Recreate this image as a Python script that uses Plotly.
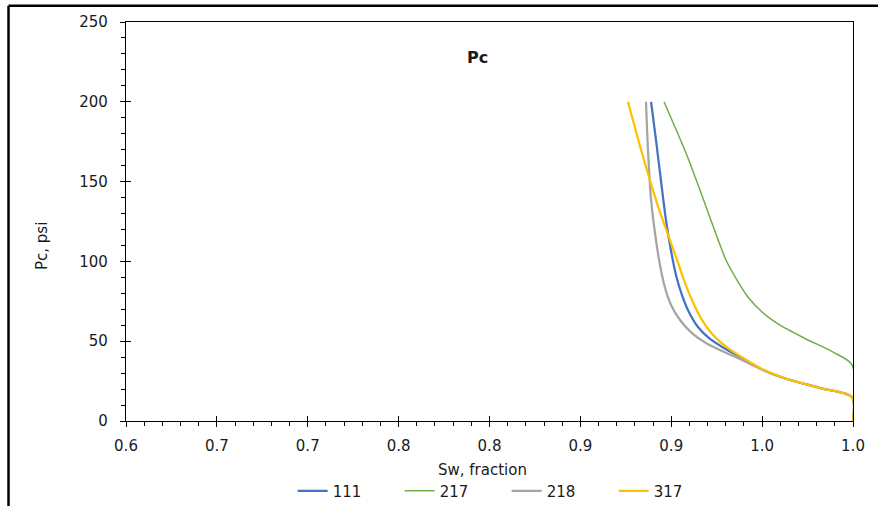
import plotly.graph_objects as go

# ---- data ----
x_111 = [0.8889, 0.8916, 0.8943, 0.8971, 0.8998, 0.9026, 0.9059, 0.9097, 0.9147, 0.9213, 0.9290, 0.9389, 0.9505, 0.9637, 0.9818, 0.9995, 1.0]
y_111 = [200, 176.1, 151.0, 125.9, 107.1, 91.5, 78.9, 68.3, 58.9, 51.4, 45.7, 39.5, 32.0, 26.3, 20.7, 15, 0]

x_217 = [0.8960, 0.9081, 0.9158, 0.9252, 0.9301, 0.9362, 0.9422, 0.9494, 0.9587, 0.9741, 0.9890, 0.9995, 1.0]
y_217 = [200, 167.9, 144.7, 115.3, 100.9, 88.3, 77.7, 68.9, 60.8, 51.4, 43.2, 35.1, 0]

x_218 = [0.8861, 0.8872, 0.8889, 0.8916, 0.8938, 0.8966, 0.8999, 0.9048, 0.9114, 0.9191, 0.9279, 0.9389, 0.9505, 0.9637, 0.9818, 0.9995, 1.0]
y_218 = [200, 169.8, 138.5, 113.4, 97.7, 83.3, 72.7, 63.3, 55.1, 48.9, 43.9, 38.2, 32.0, 26.3, 20.7, 15, 0]

x_317 = [0.8762, 0.8828, 0.8894, 0.8943, 0.8993, 0.9032, 0.9070, 0.9114, 0.9163, 0.9230, 0.9312, 0.9406, 0.9505, 0.9637, 0.9818, 0.9995, 1.0]
y_317 = [200, 172.3, 146.6, 129.1, 113.4, 100.9, 88.3, 75.8, 64.5, 53.9, 45.7, 38.8, 32.3, 26.3, 20.7, 15, 0]

series_names = ["111", "217", "218", "317"]
series_colors = ["#4472C4", "#70AD47", "#A5A5A5", "#FFC000"]
series_widths = [2.25, 1.5, 2.25, 2.25]

x_tickvals = [0.6, 0.65, 0.7, 0.75, 0.8, 0.85, 0.9, 0.95, 1.0]
x_ticktext = ["0.6", "0.7", "0.7", "0.8", "0.8", "0.9", "0.9", "1.0", "1.0"]
y_tickvals = [0, 50, 100, 150, 200, 250]

FONT = "DejaVu Sans"
TXT = "#1a1a1a"

fig = go.Figure()
for xs, ys, name, col, w in zip([x_111, x_217, x_218, x_317], [y_111, y_217, y_218, y_317],
                                series_names, series_colors, series_widths):
    fig.add_trace(go.Scatter(x=xs, y=ys, name=name, mode="lines",
                             line=dict(color=col, width=w, shape="spline", smoothing=0.8)))

# invisible trace so the overlay axes (inner half of cross ticks) exist
fig.add_trace(go.Scatter(x=[None], y=[None], xaxis="x2", yaxis="y2", showlegend=False, hoverinfo="skip"))

axis_font = dict(family=FONT, size=15, color=TXT)

fig.update_layout(
    width=878, height=506,
    margin=dict(l=126, r=25, t=22, b=85, autoexpand=False),
    paper_bgcolor="white", plot_bgcolor="white",
    font=dict(family=FONT, size=15, color=TXT),
    showlegend=True,
    legend=dict(orientation="h", x=0.5236, xanchor="center", yref="container", y=0.0296, yanchor="middle",
                font=dict(family=FONT, size=15, color=TXT), entrywidth=62, bgcolor="rgba(0,0,0,0)"),
    xaxis=dict(range=[0.6, 1.0], tickmode="array", tickvals=x_tickvals, ticktext=x_ticktext,
               ticks="outside", ticklen=5, tickwidth=1, tickcolor="black",
               showline=True, linecolor="black", linewidth=1.2, mirror=True,
               showgrid=False, zeroline=False, tickfont=axis_font, ticklabelstandoff=6,
               minor=dict(tickmode="linear", tick0=0.6, dtick=0.01, ticks="outside", ticklen=4,
                          tickcolor="black", tickwidth=1, showgrid=False)),
    yaxis=dict(range=[0, 250], tickmode="array", tickvals=y_tickvals,
               ticks="outside", ticklen=5, tickwidth=1, tickcolor="black",
               showline=True, linecolor="black", linewidth=1.2, mirror=True,
               showgrid=False, zeroline=False, tickfont=axis_font, ticklabelstandoff=9,
               minor=dict(tickmode="linear", tick0=0, dtick=10, ticks="outside", ticklen=4,
                          tickcolor="black", tickwidth=1, showgrid=False)),
    xaxis2=dict(range=[0.6, 1.0], overlaying="x", anchor="y", side="bottom",
                tickmode="array", tickvals=x_tickvals, ticks="inside", ticklen=5, tickwidth=1,
                tickcolor="black", showticklabels=False, showline=False, showgrid=False, zeroline=False),
    yaxis2=dict(range=[0, 250], overlaying="y", anchor="x", side="left",
                tickmode="array", tickvals=y_tickvals, ticks="inside", ticklen=5, tickwidth=1,
                tickcolor="black", showticklabels=False, showline=False, showgrid=False, zeroline=False),
    annotations=[
        dict(text="<b>Pc</b>", x=0.484, y=0.91, xref="paper", yref="paper", showarrow=False,
             font=dict(family=FONT, size=16, color=TXT), xanchor="center", yanchor="middle"),
        dict(text="Sw, fraction", x=0.491, y=-0.1228, xref="paper", yref="paper", showarrow=False,
             font=dict(family=FONT, size=15, color=TXT), xanchor="center", yanchor="middle"),
        dict(text="Pc, psi", x=-0.1155, y=0.4386, xref="paper", yref="paper", showarrow=False,
             textangle=-90, font=dict(family=FONT, size=15, color=TXT), xanchor="center", yanchor="middle"),
    ],
    shapes=[
        dict(type="line", xref="paper", yref="paper", x0=-0.1616, x1=1.04, y0=1.0409, y1=1.0409,
             line=dict(color="black", width=2.5)),
        dict(type="line", xref="paper", yref="paper", x0=-0.1616, x1=-0.1616, y0=1.0409, y1=-0.23,
             line=dict(color="black", width=2.5)),
    ],
)

fig.write_html("out.html")
